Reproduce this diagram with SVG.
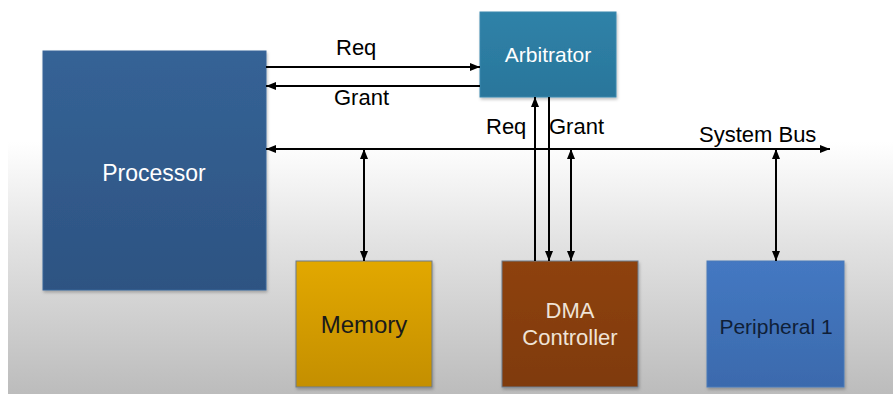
<svg xmlns="http://www.w3.org/2000/svg" width="893" height="394" viewBox="0 0 893 394">
  <defs>
    <linearGradient id="bg" x1="0" y1="0" x2="0" y2="1">
      <stop offset="0" stop-color="#ffffff"/>
      <stop offset="0.36" stop-color="#ffffff"/>
      <stop offset="0.6" stop-color="#e4e4e4"/>
      <stop offset="1" stop-color="#bcbcbc"/>
    </linearGradient>
    <linearGradient id="gProc" x1="0" y1="0" x2="0" y2="1">
      <stop offset="0" stop-color="#356396"/>
      <stop offset="1" stop-color="#2d5382"/>
    </linearGradient>
    <linearGradient id="gArb" x1="0" y1="0" x2="0" y2="1">
      <stop offset="0" stop-color="#2f82a8"/>
      <stop offset="1" stop-color="#2a769b"/>
    </linearGradient>
    <linearGradient id="gMem" x1="0" y1="0" x2="0" y2="1">
      <stop offset="0" stop-color="#e2a800"/>
      <stop offset="1" stop-color="#c48f00"/>
    </linearGradient>
    <linearGradient id="gDma" x1="0" y1="0" x2="0" y2="1">
      <stop offset="0" stop-color="#8e420a"/>
      <stop offset="1" stop-color="#7f3a0a"/>
    </linearGradient>
    <linearGradient id="gPer" x1="0" y1="0" x2="0" y2="1">
      <stop offset="0" stop-color="#4478c2"/>
      <stop offset="1" stop-color="#3b6aad"/>
    </linearGradient>
    <filter id="shadow" x="-5%" y="-5%" width="115%" height="115%">
      <feDropShadow dx="1" dy="2" stdDeviation="1.5" flood-color="#000" flood-opacity="0.25"/>
    </filter>
    <marker id="ah" viewBox="0 0 10 10" refX="10" refY="5" markerWidth="10" markerHeight="10" markerUnits="userSpaceOnUse" orient="auto-start-reverse">
      <path d="M0,1 L10,5 L0,9 Z" fill="#000"/>
    </marker>
  </defs>
  <style>
    .box { filter: url(#shadow); stroke-width: 1; }
    .lbl { font-family: "Liberation Sans", "DejaVu Sans", sans-serif; font-size: 22px; fill: #000; }
    .name { font-family: "Liberation Sans", "DejaVu Sans", sans-serif; font-size: 22px; text-anchor: middle; }
    .wire { stroke: #000; stroke-width: 2; fill: none; }
  </style>

  <!-- backdrop -->
  <rect x="0" y="0" width="893" height="394" fill="#ffffff"/>
  <rect x="8" y="0" width="885" height="394" fill="url(#bg)"/>

  <g id="processor">
    <rect class="box" x="43" y="51" width="223" height="239" fill="url(#gProc)" stroke="#3a6699"/>
    <text class="name" x="154" y="181" fill="#ffffff" style="font-size:23px">Processor</text>
  </g>

  <g id="arbitrator">
    <rect class="box" x="480" y="12" width="136" height="85" fill="url(#gArb)" stroke="#3a88ad"/>
    <text class="name" x="548" y="62" fill="#ffffff" style="font-size:21px">Arbitrator</text>
  </g>

  <g id="memory">
    <rect class="box" x="296" y="261" width="136" height="126" fill="url(#gMem)" stroke="#6c7a8c"/>
    <text class="name" x="364" y="333" fill="#1a1a1a" style="font-size:24px">Memory</text>
  </g>

  <g id="dma-controller">
    <rect class="box" x="502" y="261" width="136" height="126" fill="url(#gDma)" stroke="#6c7a8c"/>
    <text class="name" x="570" y="318" fill="#efe3d6">DMA</text>
    <text class="name" x="570" y="345" fill="#efe3d6">Controller</text>
  </g>

  <g id="peripheral-1">
    <rect class="box" x="707" y="261" width="137" height="126" fill="url(#gPer)" stroke="#4a7ab8"/>
    <text class="name" x="776" y="334" fill="#0f1f38" style="font-size:21px">Peripheral 1</text>
  </g>

  <g id="connectors">
    <!-- processor / arbitrator handshake -->
    <line class="wire" x1="266" y1="67" x2="480" y2="67" marker-end="url(#ah)"/>
    <line class="wire" x1="480" y1="86" x2="266" y2="86" marker-end="url(#ah)"/>
    <!-- system bus -->
    <line class="wire" x1="266" y1="149" x2="830" y2="149" marker-start="url(#ah)" marker-end="url(#ah)"/>
    <!-- memory tap -->
    <line class="wire" x1="364" y1="149" x2="364" y2="261" marker-start="url(#ah)" marker-end="url(#ah)"/>
    <!-- DMA request / grant -->
    <line class="wire" x1="535" y1="261" x2="535" y2="97" marker-end="url(#ah)"/>
    <line class="wire" x1="549" y1="97" x2="549" y2="261" marker-end="url(#ah)"/>
    <!-- DMA bus tap -->
    <line class="wire" x1="571" y1="149" x2="571" y2="261" marker-start="url(#ah)" marker-end="url(#ah)"/>
    <!-- peripheral tap -->
    <line class="wire" x1="776" y1="149" x2="776" y2="261" marker-start="url(#ah)" marker-end="url(#ah)"/>
  </g>

  <g id="labels">
    <text class="lbl" x="336" y="55">Req</text>
    <text class="lbl" x="334" y="105">Grant</text>
    <text class="lbl" x="486" y="134">Req</text>
    <text class="lbl" x="549" y="134">Grant</text>
    <text class="lbl" x="699" y="142">System Bus</text>
  </g>
</svg>
